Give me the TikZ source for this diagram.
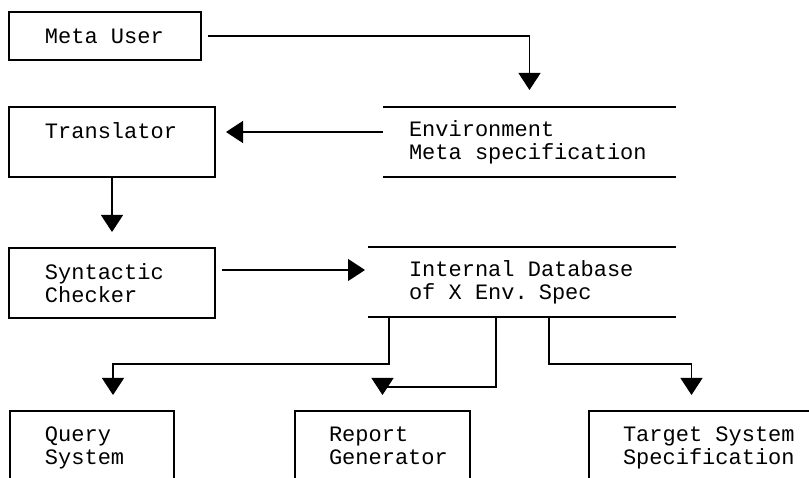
\documentclass[tikz,border=0pt]{standalone}
\usepackage{fontspec}
\setmonofont{Liberation Mono}[WordSpace={1,0,0}]
\usetikzlibrary{arrows.meta}
\hfuzz=30pt
\tikzset{%
  >={Triangle[width=22pt,length=17pt]},
            base/.style = {rectangle, draw=black, line width=2.6pt,
                           minimum height=70pt, inner sep=0pt, outer sep=0pt,
                           align=left, font=\ttfamily\fontsize{22}{23}\selectfont,
                           execute at begin node={\spaceskip=0.6em\relax}},
  box0/.style = {base},
  box1/.style = {base, minimum height=73pt, execute at end node={\vphantom{y}}},
  store/.style = {base, draw=none},
  wire/.style = {line width=1.1pt},
  rule/.style = {line width=2.8pt},
}
\begin{document}
\begin{tikzpicture}[x=1pt, y=-1pt]
  \useasboundingbox (0,0) rectangle (809,478);
  \clip (0,0) rectangle (809,478);

  \node (onUser)   [box0, minimum width=192pt, minimum height=48pt, text width=120pt] at (105,36)      {Meta User};
  \node (onTrans)  [box0, minimum width=206pt, text width=134pt]                      at (112,142)     {Translator\\\phantom{X}};
  \node (onSynt)   [box0, minimum width=206pt, text width=134pt]                      at (112,283)     {Syntactic\\Checker};
  \node (onEnv)    [store, minimum width=293pt, text width=241pt]                     at (529.5,142)   {Environment\\Meta specification};
  \node (onBase)   [store, minimum width=308pt, text width=226pt]                     at (522,282)     {Internal Database\\of X Env. Spec};
  \node (onQuery)  [box1, minimum width=164pt, text width=94pt]                       at (92,447.5)    {Query\\System};
  \node (onReport) [box1, minimum width=175pt, text width=107pt]                      at (382.5,447.5) {Report\\Generator};
  \node (onTarget) [box1, minimum width=223pt, text width=155pt]                      at (700.5,447.5) {Target~System\\Specification};

  \draw[rule] (onEnv.north west)  -- (onEnv.north east)
              (onEnv.south west)  -- (onEnv.south east);
  \draw[rule] (onBase.north west) -- (onBase.north east)
              (onBase.south west) -- (onBase.south east);

  \draw[->, wire, shorten <=7pt, shorten >=17pt] (onUser.east) -| (onEnv.north);
  \draw[->, wire, shorten >=11pt]                ([yshift=10pt]onEnv.west) -- ([yshift=10pt]onTrans.east);
  \draw[->, wire, shorten >=16pt]                (onTrans.south) -- (onSynt.north);
  \draw[->, wire, shorten <=7pt, shorten >=3pt]  ([yshift=13pt]onSynt.east) -- ([yshift=12pt]onBase.west);
  \draw[->, wire, shorten >=16pt] ([xshift=21pt]onBase.south west)  -- ++(0,47) -| ([xshift=21pt]onQuery.north);
  \draw[->, wire, shorten >=16pt] ([xshift=128pt]onBase.south west) -- ++(0,70) -| (onReport.north);
  \draw[->, wire, shorten >=16pt] ([xshift=181pt]onBase.south west) -- ++(0,47) -| ([xshift=-9pt]onTarget.north);
\end{tikzpicture}
\end{document}
